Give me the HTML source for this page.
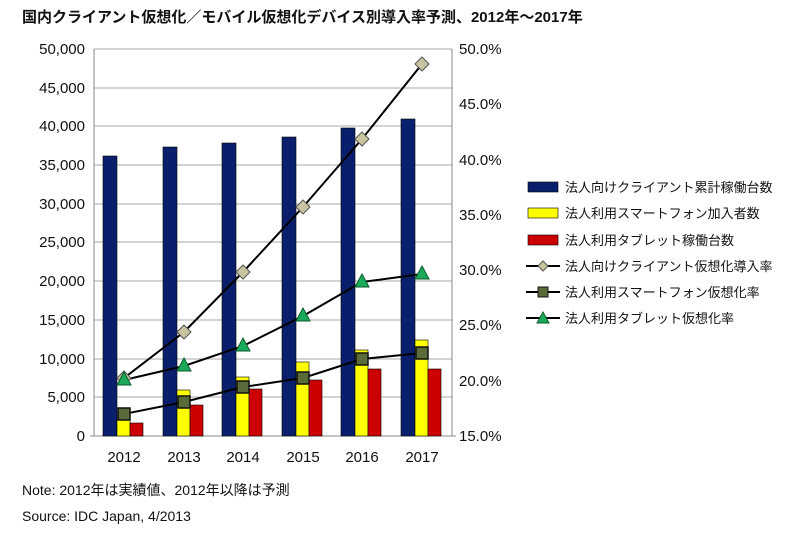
<!DOCTYPE html><html><head><meta charset="utf-8"><style>body{margin:0;background:#fff}svg{display:block}text{font-family:"Liberation Sans","Noto Sans CJK JP",sans-serif}</style></head><body>
<svg width="800" height="538" xmlns="http://www.w3.org/2000/svg">
<text x="22" y="22" font-size="15" font-weight="bold" fill="#111">国内クライアント仮想化／モバイル仮想化デバイス別導入率予測、2012年～2017年</text>
<g stroke="#aaa" stroke-width="1">
<line x1="94" x2="452" y1="49" y2="49"/><line x1="94" x2="452" y1="88" y2="88"/><line x1="94" x2="452" y1="126" y2="126"/><line x1="94" x2="452" y1="165" y2="165"/><line x1="94" x2="452" y1="204" y2="204"/><line x1="94" x2="452" y1="242" y2="242"/><line x1="94" x2="452" y1="281" y2="281"/><line x1="94" x2="452" y1="320" y2="320"/><line x1="94" x2="452" y1="359" y2="359"/><line x1="94" x2="452" y1="397" y2="397"/>
</g>
<g stroke="#888"><line x1="94" y1="49" x2="94" y2="436"/><line x1="452" y1="49" x2="452" y2="436"/><line x1="90" y1="436" x2="456" y2="436"/></g>
<g font-size="15" fill="#111" text-anchor="end">
<text x="85" y="54">50,000</text><text x="85" y="93">45,000</text><text x="85" y="131">40,000</text><text x="85" y="170">35,000</text><text x="85" y="209">30,000</text><text x="85" y="247">25,000</text><text x="85" y="286">20,000</text><text x="85" y="325">15,000</text><text x="85" y="364">10,000</text><text x="85" y="402">5,000</text><text x="85" y="441">0</text>
</g>
<g font-size="15" fill="#111">
<text x="459" y="54">50.0%</text><text x="459" y="109">45.0%</text><text x="459" y="165">40.0%</text><text x="459" y="220">35.0%</text><text x="459" y="275">30.0%</text><text x="459" y="330">25.0%</text><text x="459" y="386">20.0%</text><text x="459" y="441">15.0%</text>
</g>
<g font-size="15" fill="#111" text-anchor="middle">
<text x="124" y="462">2012</text><text x="184" y="462">2013</text><text x="243" y="462">2014</text><text x="303" y="462">2015</text><text x="362" y="462">2016</text><text x="422" y="462">2017</text>
</g>
<g stroke="#000" stroke-width="0.6">
<rect x="103" y="156" width="14" height="280" fill="#0a1f6b"/><rect x="117" y="419" width="13" height="17" fill="#ffff00"/><rect x="130" y="423" width="13" height="13" fill="#cc0000"/>
<rect x="163" y="147" width="14" height="289" fill="#0a1f6b"/><rect x="177" y="390" width="13" height="46" fill="#ffff00"/><rect x="190" y="405" width="13" height="31" fill="#cc0000"/>
<rect x="222" y="143" width="14" height="293" fill="#0a1f6b"/><rect x="236" y="377" width="13" height="59" fill="#ffff00"/><rect x="249" y="389" width="13" height="47" fill="#cc0000"/>
<rect x="282" y="137" width="14" height="299" fill="#0a1f6b"/><rect x="296" y="362" width="13" height="74" fill="#ffff00"/><rect x="309" y="380" width="13" height="56" fill="#cc0000"/>
<rect x="341" y="128" width="14" height="308" fill="#0a1f6b"/><rect x="355" y="350" width="13" height="86" fill="#ffff00"/><rect x="368" y="369" width="13" height="67" fill="#cc0000"/>
<rect x="401" y="119" width="14" height="317" fill="#0a1f6b"/><rect x="415" y="340" width="13" height="96" fill="#ffff00"/><rect x="428" y="369" width="13" height="67" fill="#cc0000"/>
</g>
<g fill="none" stroke="#000" stroke-width="2">
<polyline points="124,378 184,332 243,272 303,207 362,139 422,64"/>
<polyline points="124,414 184,402 243,387 303,378 362,359 422,353"/>
<polyline points="124,380 184,366 243,346 303,316 362,282 422,274"/>
</g>
<g fill="#c8c4a0" stroke="#555" stroke-width="1">
<polygon points="124,371 131,378 124,385 117,378"/><polygon points="184,325 191,332 184,339 177,332"/><polygon points="243,265 250,272 243,279 236,272"/><polygon points="303,200 310,207 303,214 296,207"/><polygon points="362,132 369,139 362,146 355,139"/><polygon points="422,57 429,64 422,71 415,64"/>
</g>
<g fill="#5a6b3a" stroke="#111" stroke-width="1.5">
<rect x="118" y="408" width="12" height="12"/><rect x="178" y="396" width="12" height="12"/><rect x="237" y="381" width="12" height="12"/><rect x="297" y="372" width="12" height="12"/><rect x="356" y="353" width="12" height="12"/><rect x="416" y="347" width="12" height="12"/>
</g>
<g fill="#1aaa5a" stroke="#0a5a2a" stroke-width="1">
<polygon points="124,372 131,385 117,385"/><polygon points="184,358 191,371 177,371"/><polygon points="243,338 250,351 236,351"/><polygon points="303,308 310,321 296,321"/><polygon points="362,274 369,287 355,287"/><polygon points="422,266 429,279 415,279"/>
</g>
<g font-size="13" fill="#111">
<rect x="528" y="182" width="30" height="10" fill="#0a1f6b" stroke="#000" stroke-width="0.6"/><text x="565" y="192">法人向けクライアント累計稼働台数</text>
<rect x="528" y="208" width="30" height="10" fill="#ffff00" stroke="#000" stroke-width="0.6"/><text x="565" y="218">法人利用スマートフォン加入者数</text>
<rect x="528" y="235" width="30" height="10" fill="#cc0000" stroke="#000" stroke-width="0.6"/><text x="565" y="245">法人利用タブレット稼働台数</text>
<line x1="526" y1="266" x2="560" y2="266" stroke="#000" stroke-width="2"/><polygon points="543,261 548,266 543,271 538,266" fill="#c8c4a0" stroke="#555"/><text x="565" y="271">法人向けクライアント仮想化導入率</text>
<line x1="526" y1="292" x2="560" y2="292" stroke="#000" stroke-width="2"/><rect x="538" y="287" width="10" height="10" fill="#5a6b3a" stroke="#111"/><text x="565" y="297">法人利用スマートフォン仮想化率</text>
<line x1="526" y1="318" x2="560" y2="318" stroke="#000" stroke-width="2"/><polygon points="543,312 549,323 537,323" fill="#1aaa5a" stroke="#0a5a2a"/><text x="565" y="323">法人利用タブレット仮想化率</text>
</g>
<text x="22" y="495" font-size="14" fill="#111">Note: 2012年は実績値、2012年以降は予測</text>
<text x="22" y="521" font-size="14" fill="#111">Source: IDC Japan, 4/2013</text>
</svg></body></html>
